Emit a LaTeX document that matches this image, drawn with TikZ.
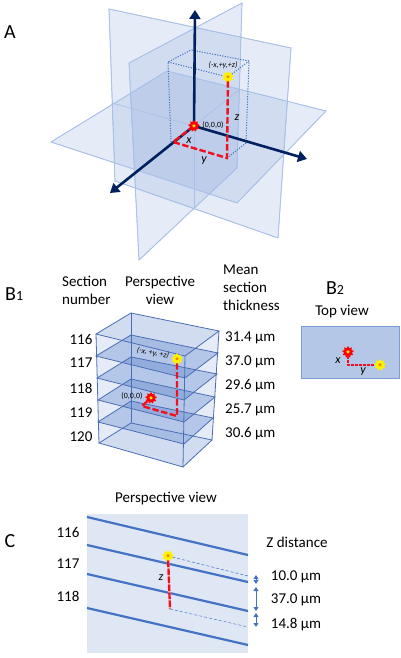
\documentclass[tikz,border=0pt]{standalone}
\usepackage{fontspec}
\setmainfont{Carlito}
\usepackage{xcolor}
\usetikzlibrary{arrows.meta,shapes.geometric}
\definecolor{planeblue}{HTML}{4472C4}
\definecolor{planeedge}{HTML}{A9C0E8}
\definecolor{layeredge}{HTML}{4A6DB5}
\definecolor{axisnavy}{HTML}{00205F}
\definecolor{redpath}{HTML}{F01020}
\definecolor{panelfill}{HTML}{DFE7F5}
\definecolor{topfill}{HTML}{B4C7E7}
\newcommand{\HeadFont}{\fontsize{15}{18}\selectfont}
\newcommand{\PanelFont}{\fontsize{20}{22}\selectfont}
\newcommand{\SubFont}{\fontsize{14}{16}\selectfont}
\newcommand{\TinyFont}{\fontsize{8}{9}\selectfont}
\newcommand{\VarFont}{\fontsize{12}{14}\selectfont\itshape}
\tikzset{
  plane/.style={draw=planeedge,line width=0.7pt,fill=planeblue,fill opacity=0.134},
  axis/.style={draw=axisnavy,line width=2.6pt,-{Triangle[length=9pt,width=11pt]}},
  reddash/.style={draw=redpath,line width=2.4pt,dash pattern=on 6.5pt off 2.5pt},
  reddot/.style={draw=redpath,line width=2.4pt,dash pattern=on 2.5pt off 1.5pt},
  boxdot/.style={draw=planeblue,line width=1pt,dash pattern=on 1.2pt off 1.4pt},
  layer/.style={draw=layeredge,line width=0.8pt},
  section/.style={draw=planeblue,line width=2.2pt},
  guide/.style={draw=planeblue,line width=0.5pt,densely dashed},
  span/.style={draw=planeblue,line width=0.9pt,{Triangle[length=4pt,width=5pt]}-{Triangle[length=4pt,width=5pt]}},
  label/.style={inner sep=0pt,font=\HeadFont},
  sunred/.style={star,star points=9,star point ratio=1.5,fill=red,inner sep=0pt,minimum size=12pt,
    path picture={\fill[yellow!90!orange] (path picture bounding box.center) circle (1.8pt);}},
  sunyellow/.style={star,star points=9,star point ratio=1.5,fill=yellow,inner sep=0pt,minimum size=12pt,
    path picture={\fill[orange] (path picture bounding box.center) circle (1.6pt);}},
}

\begin{document}
\begin{tikzpicture}[x=1pt,y=-1pt]
  \useasboundingbox (0,0) rectangle (400,658);
  % panel A
  \node[label,font=\PanelFont] (panelA) at (10,32) {A};
  \fill[plane] (109,9) -- (291,48) -- (278,238) -- (115,181) -- cycle;
  \fill[plane] (242,3) -- (129,63) -- (139,260) -- (237,168) -- cycle;
  \fill[plane] (51,142) -- (167,71) -- (326,111) -- (237,203) -- cycle;
  \draw[plane,fill=none] (109,9) -- (291,48) -- (278,238) -- (115,181) -- cycle;
  \draw[plane,fill=none] (242,3) -- (129,63) -- (139,260) -- (237,168) -- cycle;
  \draw[plane,fill=none] (51,142) -- (167,71) -- (326,111) -- (237,203) -- cycle;
  \coordinate (zero) at (194,126);
  \coordinate (footx) at (173,142);
  \coordinate (foot) at (227,158);
  \coordinate (boxa) at (168,62);
  \coordinate (boxb) at (191,50);
  \coordinate (boxc) at (249,61);
  \coordinate (boxd) at (246,143);
  \coordinate (boxe) at (171,142);
  \draw[planeedge,line width=0.7pt] (112,103) -- (zero) -- (240,89);
  \draw[planeedge,line width=0.7pt] (zero) -- (194,208);
  \node[sunyellow] (pointA) at (228,77) {};
  \draw[boxdot] (boxe) -- (boxa) -- (boxb) -- (boxc) -- (boxd) -- (foot);
  \draw[boxdot] (boxa) -- (pointA) -- (boxc);
  \draw[axis] (zero) -- (195,10);
  \draw[axis] (zero) -- (110,193);
  \draw[axis] (zero) -- (307,159);
  \draw[reddash] (zero) -- (footx) -- (foot) -- (pointA);
  \node[sunred] (originA) at (zero) {};
  \node[label,font=\TinyFont\itshape] (coordA) at (223,65) {(-x,+y,+z)};
  \node[label,font=\TinyFont] (zeroA) at (213,125) {(0,0,0)};
  \node[label,font=\VarFont] (xA) at (189,141) {x};
  \node[label,font=\VarFont] (yA) at (204,161) {y};
  \node[label,font=\VarFont] (zA) at (237,118) {z};

  % panel B1
  \node[label,font=\PanelFont,anchor=west] (panelBa) at (5,294) {B{\SubFont 1}};
  \node[label,align=left,anchor=north west] (headSection) at (62,276) {Section\\number};
  \node[label,align=center,anchor=north] (headView) at (160,276) {Perspective\\view};
  \node[label,align=left,anchor=north west] (headMean) at (223,265) {Mean\\section\\thickness};
  \foreach \i/\lx/\ly/\bx/\by/\rx/\ry/\fx/\fy in {
      1/96/334/131/313/219/331/185/356,
      2/96/356/131/335/218/353/185/378,
      3/97/378/131/357/217/374/184/400,
      4/98/400/131/379/215/397/184/422,
      5/98/422/131/401/213/418/184/444,
      6/99/443/131/423/212/440/183/467}{
    \coordinate (left\i) at (\lx,\ly);
    \coordinate (back\i) at (\bx,\by);
    \coordinate (right\i) at (\rx,\ry);
    \coordinate (front\i) at (\fx,\fy);
  }
  \fill[planeblue,fill opacity=0.134] (left1) -- (back1) -- (right1) -- (right6) -- (front6) -- (left6) -- cycle;
  \fill[planeblue,fill opacity=0.134] (left1) -- (back1) -- (right1) -- (front1) -- cycle;
  \fill[planeblue,fill opacity=0.134] (left6) -- (back6) -- (right6) -- (front6) -- cycle;
  \foreach \i in {2,...,5}
    \fill[planeblue,fill opacity=0.3] (left\i) -- (back\i) -- (right\i) -- (front\i) -- cycle;
  \foreach \i in {1,...,6}
    \draw[layer] (left\i) -- (back\i) -- (right\i) -- (front\i) -- cycle;
  \draw[layer] (left1) -- (left6);
  \draw[layer,line width=0.4pt] (back1) -- (back6);
  \draw[layer] (right1) -- (right6);
  \draw[layer] (front1) -- (front6);
  \foreach \n/\y in {116/339,117/363,118/388,119/413,120/437}
    \node[label] (sec\n) at (81,\y) {\n};
  \foreach \n/\t/\y in {a/31.4/338,b/37.0/362,c/29.6/386,d/25.7/410,e/30.6/434}
    \node[label,anchor=west] (mean\n) at (225,\y) {\t\ µm};
  \node[sunyellow] (pointB) at (177,359) {};
  \node[sunred] (originB) at (151,398) {};
  \coordinate (bendB) at (142,406);
  \coordinate (footB) at (177,416);
  \draw[reddash] (originB) -- (bendB) -- (footB) -- (pointB);
  \node[label,font=\TinyFont\itshape,rotate=-10] (coordB) at (153,353) {(-x, +y, +z)};
  \node[label,font=\TinyFont] (zeroB) at (132,396) {(0,0,0)};

  % panel B2
  \node[label,font=\PanelFont] (panelBb) at (335,288) {B{\SubFont 2}};
  \node[label] (headTop) at (342,312) {Top view};
  \node[draw=planeblue!70,fill=topfill,line width=0.8pt,inner sep=0pt,minimum width=98pt,minimum height=52pt,anchor=north west]
    (topview) at (301,326) {};
  \node[sunred] (originT) at (348,352) {};
  \node[sunyellow] (pointT) at (380,365) {};
  \coordinate (bendT) at (348,365);
  \draw[reddot] (originT) -- (bendT) -- (pointT);
  \node[label,font=\VarFont] (xT) at (338,361) {x};
  \node[label,font=\VarFont] (yT) at (363,372) {y};

  % panel C
  \node[label,font=\PanelFont] (panelC) at (10,541) {C};
  \node[label] (headC) at (166,499) {Perspective view};
  \node[fill=panelfill,inner sep=0pt,minimum width=161pt,minimum height=139pt,anchor=north west] (sidepanel) at (87,514) {};
  \foreach \a/\b in {517/555,545/582,574/611,608/645}{
    \coordinate (secl\a) at (87,\a);
    \coordinate (secr\a) at (248,\b);
    \draw[section] (secl\a) -- (secr\a);
  }
  \foreach \n/\y in {116/532,117/564,118/596}
    \node[label] (row\n) at (68,\y) {\n};
  \node[sunyellow] (pointC) at (168,556) {};
  \coordinate (footC) at (170,609);
  \coordinate (topr) at (248,576);
  \coordinate (botr) at (248,627);
  \draw[guide] (pointC) -- (topr);
  \draw[guide] (footC) -- (botr);
  \draw[white,line width=2.4pt] (pointC) -- (footC);
  \draw[reddash,dash pattern=on 7pt off 1pt] (pointC) -- (footC);
  \node[label,font=\VarFont] (zC) at (161,578) {z};
  \node[label] (headZ) at (297,542) {Z distance};
  \foreach \n/\t/\y in {a/10.0/577,b/37.0/600,c/14.8/625}
    \node[label] (zdist\n) at (296,\y) {\t\ µm};
  \foreach \n/\s/\e in {a/575/584,b/587/611,c/613/627}{
    \coordinate (spanS\n) at (256,\s);
    \coordinate (spanE\n) at (256,\e);
    \draw[span] (spanS\n) -- (spanE\n);
  }
\end{tikzpicture}
\end{document}
